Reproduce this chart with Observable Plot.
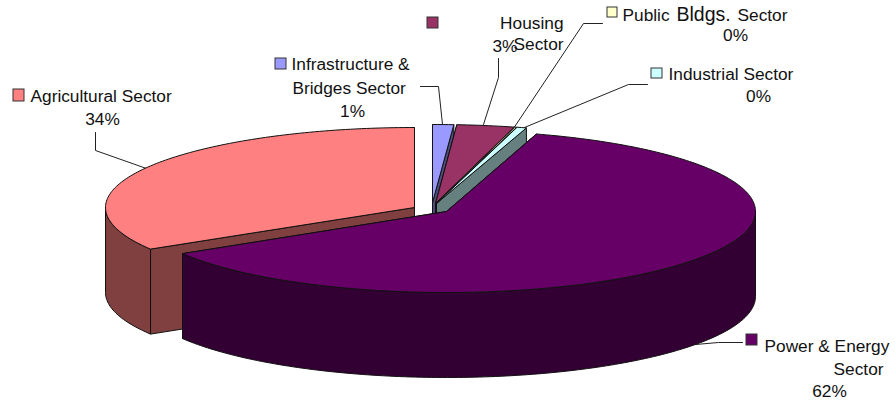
<!DOCTYPE html>
<html><head><meta charset="utf-8">
<script src="https://cdn.jsdelivr.net/npm/d3@7"></script>
<script src="https://cdn.jsdelivr.net/npm/@observablehq/plot@0.6"></script>
<style>html,body{margin:0;padding:0;background:#fff}svg{display:block}</style>
</head><body><div id="chart"></div>
<script>
// Data, clockwise from 12 o'clock
const sectors = ["Infrastructure & Bridges Sector","Housing Sector","Public Bldgs. Sector","Industrial Sector","Power & Energy Sector","Agricultural Sector"];
const shares = [1.1, 3.0, 0.1, 0.5, 61.6, 33.7];
const percentLabels = ["1%","3%","0%","0%","62%","34%"];
const topColors = ["#9999FF","#993366","#FFFFCC","#CCFFFF","#660066","#FF8080"];
const sideColors = ["#4D4D80","#4D1A33","#808066","#668080","#330033","#804040"];

// Layout of the exploded pie (pixels)
const rx = 309, depth = 85;
const centerX = [432, 435, 435.5, 436, 446, 414];
const centerY = [202, 203, 203, 203, 211, 207];
const radiusY = [78, 79, 79, 79, 81, 80];
const drawOrder = [5, 0, 1, 2, 3, 4];

// Build slice outlines from the shares
const total = d3.sum(shares);
const cum = d3.cumsum(shares);
const shapes = [];
function add(id, color, pts) {
  [...pts, pts[0]].forEach(([x, y]) => shapes.push({id, color, x, y}));
}
drawOrder.forEach(i => {
  const a0 = (i ? cum[i - 1] : 0) / total * 360, a1 = cum[i] / total * 360;
  const pt = t => [centerX[i] + rx * Math.sin(t * Math.PI / 180), centerY[i] - radiusY[i] * Math.cos(t * Math.PI / 180)];
  const apex = [centerX[i], centerY[i]];
  const down = ([x, y]) => [x, y + depth];
  const arc = (s, e) => { const n = Math.max(1, Math.ceil(Math.abs(e - s))); return d3.range(n + 1).map(k => pt(s + (e - s) * k / n)); };
  // radial faces
  [a0, a1].forEach((a, k) => {
    add(`${i}-f${k}`, sideColors[i], [apex, pt(a), down(pt(a)), down(apex)]);
  });
  // front-facing rim
  const s = Math.max(a0, 90), e = Math.min(a1, 270);
  if (e > s) { const r = arc(s, e); add(`${i}-r`, sideColors[i], [...r, ...r.slice().reverse().map(down)]); }
  // top
  add(`${i}-t`, topColors[i], [apex, ...arc(a0, a1)]);
});

// Leader lines
const leaders = [
  {s:5, pts:[[95,132],[95,150],[146,168]]},
  {s:0, pts:[[420,86],[438,86],[442,124]]},
  {s:1, pts:[[498,58],[498,77],[483,124]]},
  {s:2, pts:[[602,23],[583,23],[513,128]]},
  {s:3, pts:[[647,84],[628,84],[524,127]]},
  {s:4, pts:[[742,342],[718,342],[695,344]]}
].flatMap(l => l.pts.map(([x,y]) => ({s:l.s, x, y})));

// Legend keys
const keys = [
  {s:5,x1:13,x2:24,y1:89,y2:101},
  {s:0,x1:275,x2:286,y1:58,y2:69},
  {s:1,x1:427,x2:438,y1:17,y2:28},
  {s:2,x1:607,x2:617,y1:7,y2:17},
  {s:3,x1:651,x2:662,y1:68,y2:78},
  {s:4,x1:746,x2:757,y1:334,y2:345}
];

// Label pieces
const labels = [
  {t:"Agricultural Sector",x:30,y:101,a:"start"},
  {t:percentLabels[5],x:102,y:124,a:"middle"},
  {t:"Infrastructure &",x:291,y:69,a:"start"},
  {t:"Bridges Sector",x:292,y:93,a:"start"},
  {t:percentLabels[0],x:352,y:116,a:"middle"},
  {t:"Housing",x:563,y:28,a:"end"},
  {t:"Sector",x:563,y:49,a:"end"},
  {t:percentLabels[1],x:492,y:51,a:"start"},
  {t:"Public",x:622,y:20,a:"start"},
  {t:"Sector",x:737,y:20,a:"start"},
  {t:percentLabels[2],x:735,y:40,a:"middle"},
  {t:"Industrial Sector",x:668,y:79,a:"start"},
  {t:percentLabels[3],x:758,y:101,a:"middle"},
  {t:"Power & Energy",x:764,y:351,a:"start"},
  {t:"Sector",x:883,y:374,a:"end"},
  {t:percentLabels[4],x:829,y:396,a:"middle"}
];
const bigLabels = [{t:"Bldgs.",x:676,y:20,a:"start"}];

const textMark = (data, size) => ["start","middle","end"].map(a =>
  Plot.text(data.filter(d=>d.a===a), {x:"x", y:"y", text:"t", textAnchor:a, fontSize:size, fill:"#111", lineAnchor:"middle", dy:-0.32*size}));

const chart = Plot.plot({
  width:895, height:405, margin:0,
  style:{background:"#fff", fontFamily:"'Liberation Sans', Arial, sans-serif"},
  x:{domain:[0,895], range:[0,895], axis:null},
  y:{domain:[0,405], range:[0,405], axis:null},
  color:{type:"identity"},
  marks:[
    Plot.line(leaders,{x:"x",y:"y",z:"s",stroke:"#222",strokeWidth:1,curve:"linear"}),
    Plot.line(shapes,{x:"x",y:"y",z:"id",fill:"color",stroke:"#111",strokeWidth:1,strokeLinejoin:"round",curve:"linear"}),
    Plot.rect(keys,{x1:"x1",x2:"x2",y1:"y1",y2:"y2",fill:d=>topColors[d.s],stroke:"#333",strokeWidth:1}),
    ...textMark(labels,17.3),
    ...textMark(bigLabels,19.5)
  ]
});
document.getElementById("chart").append(chart);
</script></body></html>
